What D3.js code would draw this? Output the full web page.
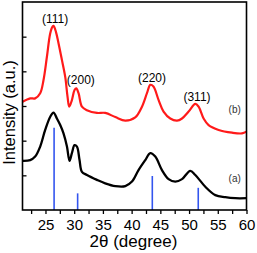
<!DOCTYPE html>
<html><head><meta charset="utf-8">
<script src="https://cdn.jsdelivr.net/npm/d3@7"></script>
<style>html,body{margin:0;padding:0;background:#fff;} svg{display:block;font-family:"Liberation Sans",Arial,sans-serif;}</style>
</head><body>
<script>
// Sample (b) – red curve
const xB = [21.0,22.34,23.2,24.08,24.66,25.25,25.83,26.23,26.4,26.82,27.27,27.86,28.44,28.84,29.14,29.6,30.06,30.36,30.76,31.35,32.22,33.96,35.4,37.17,38.9,40.63,41.8,42.67,43.25,43.8,44.7,45.56,46.73,47.9,48.77,49.92,51.09,51.66,52.53,53.4,55.15,57.48,59.22,60.0];
const yB = [3.12,3.22,3.22,3.37,3.75,4.42,5.10,5.29,5.31,5.14,4.81,4.33,3.84,3.27,2.98,3.17,3.46,3.51,3.37,2.98,2.88,2.80,2.80,2.68,2.58,2.67,2.98,3.37,3.61,3.56,3.17,2.84,2.64,2.58,2.64,2.84,3.06,2.98,2.64,2.45,2.31,2.23,2.21,2.26];
// Sample (a) – black curve
const xA = [21.0,22.34,23.2,24.08,24.95,25.83,26.4,26.99,27.57,28.14,28.74,29.19,29.6,30.06,30.48,30.93,31.35,32.22,33.96,35.4,37.17,38.9,40.06,41.2,42.38,43.25,44.12,45.28,46.44,47.6,48.77,50.2,51.09,52.83,54.57,56.3,58.05,60.0];
const yA = [1.42,1.44,1.54,1.83,2.31,2.69,2.81,2.64,2.45,2.21,1.83,1.42,1.64,1.87,1.83,1.44,1.10,1.01,0.87,0.77,0.69,0.69,0.82,1.15,1.44,1.64,1.54,1.15,0.89,0.82,0.89,1.13,1.01,0.67,0.43,0.37,0.34,0.34];
// Reference pattern lines
const refPos = [26.5,30.6,43.6,51.6];
const refInt = [2.37,0.48,0.98,0.64];
// Labels
const peakLabels = ["(111)","(200)","(220)","(311)"];
const sampleLabels = ["(b)","(a)"];
const xTickLabels = [25,30,35,40,45,50,55,60];
const minorTicks = [22.5,25,27.5,30,32.5,35,37.5,40,42.5,45,47.5,50,52.5,55,57.5,60];
const yTicks = [1,2,3,4,5];

const W=257,H=253;
const L=22.5,R=246.5,T=2,B=210;
const svg=d3.select("body").append("svg").attr("width",W).attr("height",H);
const x=d3.scaleLinear().domain([21,60]).range([L,R]);
const y=d3.scaleLinear().domain([0,6]).range([B,T]);

// curves
const line=d3.line().x(d=>x(d[0])).y(d=>y(d[1])).curve(d3.curveCatmullRom.alpha(0.5));
svg.append("path").datum(xB.map((v,i)=>[v,yB[i]])).attr("d",line)
  .attr("fill","none").attr("stroke","#ff1a1a").attr("stroke-width",2.2).attr("stroke-linejoin","round");
svg.append("path").datum(xA.map((v,i)=>[v,yA[i]])).attr("d",line)
  .attr("fill","none").attr("stroke","#000").attr("stroke-width",2.3).attr("stroke-linejoin","round");

// reference bars
svg.selectAll("line.ref").data(refPos).enter().append("line")
  .attr("x1",d=>x(d)).attr("x2",d=>x(d)).attr("y1",y(0)).attr("y2",(d,i)=>y(refInt[i]))
  .attr("stroke","#3355ee").attr("stroke-width",1.6);

// frame
svg.append("rect").attr("x",L).attr("y",T).attr("width",R-L).attr("height",B-T)
  .attr("fill","none").attr("stroke","#000").attr("stroke-width",1.6);

// bottom axis
const xAxis=d3.axisBottom(x).tickValues(minorTicks).tickSize(4)
  .tickFormat(d=>xTickLabels.includes(d)?String(d):"");
const gx=svg.append("g").attr("transform",`translate(0,${B})`).call(xAxis);
gx.select(".domain").remove();
gx.selectAll(".tick line").attr("stroke","#000").attr("stroke-width",1.3);
gx.selectAll(".tick text").attr("font-size",15).attr("font-family","Liberation Sans, Arial, sans-serif").attr("fill","#000").attr("dy","0.85em");

// left axis (inward ticks, no labels)
const yAxis=d3.axisLeft(y).tickValues(yTicks).tickSize(-4).tickFormat("");
const gy=svg.append("g").attr("transform",`translate(${L},0)`).call(yAxis);
gy.select(".domain").remove();
gy.selectAll(".tick line").attr("stroke","#000").attr("stroke-width",1.3);

// axis titles
svg.append("text").attr("x",(L+R)/2-1).attr("y",247).attr("text-anchor","middle")
  .attr("fill","#000").attr("font-size",17).text("2θ (degree)");
svg.append("text").attr("transform",`translate(15,112.5) rotate(-90)`).attr("text-anchor","middle")
  .attr("fill","#000").attr("font-size",16.5).text("Intensity (a.u.)");

// peak labels
const labPos=[[26.66,5.4],[31.15,3.64],[43.55,3.7],[51.38,3.15]];
svg.selectAll("text.pk").data(peakLabels).enter().append("text").attr("class","pk")
  .attr("x",(d,i)=>x(labPos[i][0])).attr("y",(d,i)=>y(labPos[i][1]))
  .attr("text-anchor","middle").attr("fill","#000").attr("font-size",12).text(d=>d);
const sPos=[[57.94,2.8],[57.94,0.81]];
svg.selectAll("text.sm").data(sampleLabels).enter().append("text").attr("class","sm")
  .attr("x",(d,i)=>x(sPos[i][0])).attr("y",(d,i)=>y(sPos[i][1]))
  .attr("text-anchor","middle").attr("font-size",10).attr("fill","#333").text(d=>d);
</script>
</body></html>
